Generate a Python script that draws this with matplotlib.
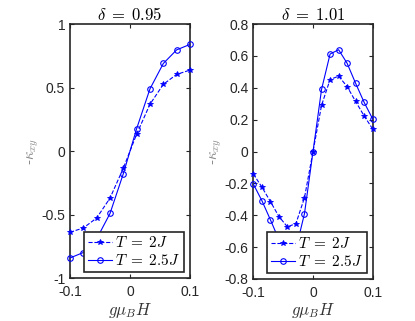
import numpy
import matplotlib
matplotlib.use('Agg')
import matplotlib.pyplot as plt

plt.rcParams['font.family'] = ['Liberation Sans', 'DejaVu Sans']
plt.rcParams['mathtext.fontset'] = 'cm'

# field values
H_LEFT = [-0.1, -0.0778, -0.0556, -0.0333, -0.0111, 0.0111, 0.0333, 0.0556, 0.0778, 0.1]
H_RIGHT = [-0.1, -0.0857, -0.0714, -0.0571, -0.0429, -0.0286, -0.0143, 0.0,
           0.0143, 0.0286, 0.0429, 0.0571, 0.0714, 0.0857, 0.1]

# delta = 0.95
K95_T2 = [-0.638, -0.604, -0.526, -0.369, -0.134, 0.134, 0.369, 0.526, 0.604, 0.638]
K95_T25 = [-0.84, -0.797, -0.69, -0.49, -0.177, 0.177, 0.49, 0.69, 0.797, 0.84]

# delta = 1.01
K101_T2 = [-0.141, -0.223, -0.314, -0.408, -0.473, -0.452, -0.29, 0.0,
           0.29, 0.452, 0.473, 0.408, 0.314, 0.223, 0.141]
K101_T25 = [-0.204, -0.308, -0.428, -0.554, -0.639, -0.612, -0.39, 0.0,
            0.39, 0.612, 0.639, 0.554, 0.428, 0.308, 0.204]

TITLES = [r'$\delta\;=\;0.95$', r'$\delta\;=\;1.01$']
LABELS = [r'$T\;=\;2J$', r'$T\;=\;2.5J$']


def draw_panel(ax, h, k_low, k_high, title, ylim, yticks, ytick_labels):
    ax.plot(h, k_low, '--', color='b', lw=0.8, marker='*', ms=4,
            mew=0.6, label=LABELS[0], clip_on=False, zorder=3)
    ax.plot(h, k_high, '-', color='b', lw=0.8, marker='o', ms=4,
            mfc='none', mew=0.8, label=LABELS[1], clip_on=False, zorder=3)
    ax.set_xlim(-0.1, 0.1)
    ax.set_ylim(*ylim)
    ax.set_xticks([-0.1, 0, 0.1])
    ax.set_xticklabels(['-0.1', '0', '0.1'])
    ax.set_yticks(yticks)
    ax.set_yticklabels(ytick_labels)
    ax.tick_params(direction='in', top=True, right=True, labelsize=10,
                   length=3, width=0.8, colors='#262626', labelcolor='#262626')
    ax.tick_params(axis='x', pad=5)
    for s in ax.spines.values():
        s.set_linewidth(1.2)
        s.set_color('#262626')
    ax.set_title(title, fontsize=12, pad=3)
    ax.set_xlabel(r'$g\mu_B H$', fontsize=12, labelpad=1, color='#333333')
    ax.set_ylabel(r'-$\kappa_{xy}$', fontsize=11, labelpad=0, color='#888888')
    leg = ax.legend(loc='lower right', fontsize=11, handlelength=1.6,
                    handletextpad=0.2, borderpad=0.25, labelspacing=0.2,
                    fancybox=False, framealpha=1, borderaxespad=0.4)
    leg.get_frame().set_edgecolor('#262626')
    leg.get_frame().set_linewidth(1.2)
    leg.set_zorder(5)


fig = plt.figure(figsize=(4.15, 3.21), dpi=100)
ax1 = fig.add_axes([0.1687, 0.133, 0.289, 0.792])
ax2 = fig.add_axes([0.6104, 0.131, 0.2877, 0.794])

draw_panel(ax1, H_LEFT, K95_T2, K95_T25, TITLES[0], (-1, 1),
           [-1, -0.5, 0, 0.5, 1], ['-1', '-0.5', '0', '0.5', '1'])
draw_panel(ax2, H_RIGHT, K101_T2, K101_T25, TITLES[1], (-0.8, 0.8),
           [-0.8, -0.6, -0.4, -0.2, 0, 0.2, 0.4, 0.6, 0.8],
           ['-0.8', '-0.6', '-0.4', '-0.2', '0', '0.2', '0.4', '0.6', '0.8'])

fig.savefig('out.png', dpi=100)
